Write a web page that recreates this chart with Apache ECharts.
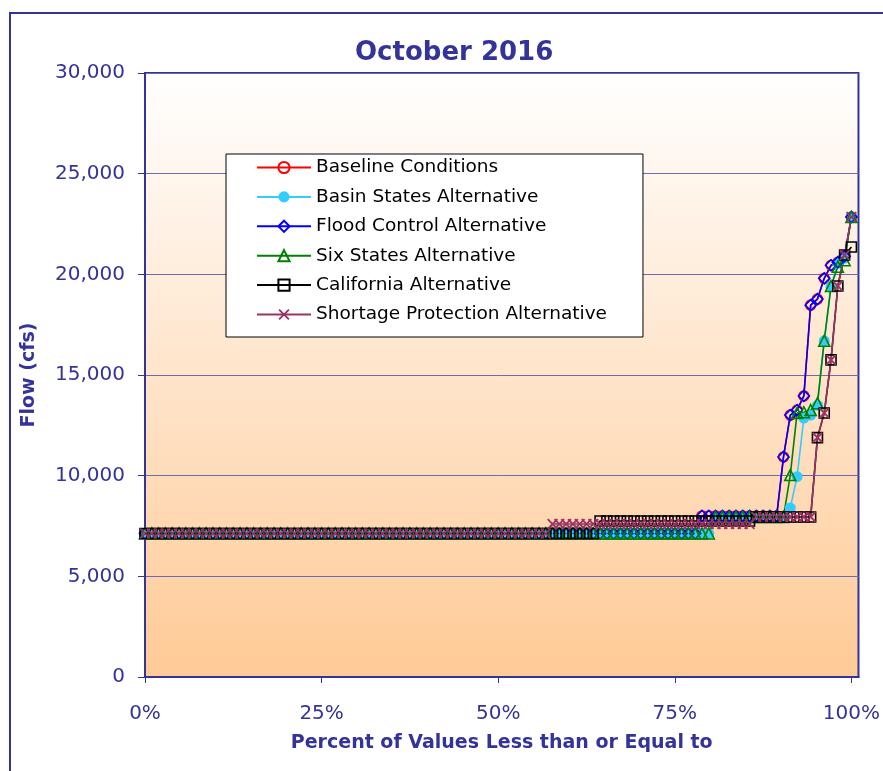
<!DOCTYPE html>
<html>
<head>
<meta charset="utf-8">
<script src="https://cdn.jsdelivr.net/npm/echarts@6/dist/echarts.min.js"></script>
<style>
  html, body { margin: 0; padding: 0; background: #ffffff; }
  #chart { width: 883px; height: 771px; }
</style>
</head>
<body>
<div id="chart"></div>
<script>
// Sorted October 2016 flows (cfs), ranked lowest to highest for each alternative.
const seriesNames = [
  'Baseline Conditions',
  'Basin States Alternative',
  'Flood Control Alternative',
  'Six States Alternative',
  'California Alternative',
  'Shortage Protection Alternative'
];

const baselineFlow = [
  7130, 7130, 7130, 7130, 7130, 7130, 7130, 7130, 7130, 7130,
  7130, 7130, 7130, 7130, 7130, 7130, 7130, 7130, 7130, 7130,
  7130, 7130, 7130, 7130, 7130, 7130, 7130, 7130, 7130, 7130,
  7130, 7130, 7130, 7130, 7130, 7130, 7130, 7130, 7130, 7130,
  7130, 7130, 7130, 7130, 7130, 7130, 7130, 7130, 7130, 7130,
  7130, 7130, 7130, 7130, 7130, 7130, 7130, 7130, 7130, 7130,
  7130, 7130, 7130, 7130, 7130, 7130, 7130, 7130, 7130, 7130,
  7130, 7130, 7130, 7130, 7130, 7130, 7130, 7130, 7130, 7130,
  7130, 7130,
  8000, 8000, 8000, 8000, 8000, 8000, 8000, 8000, 8000, 8000, 8000, 8000,
  10930, 13010, 13260, 13960, 18470, 18770, 19800, 20450, 20600, 20900, 22850
];

const basinStatesFlow = [
  7130, 7130, 7130, 7130, 7130, 7130, 7130, 7130, 7130, 7130,
  7130, 7130, 7130, 7130, 7130, 7130, 7130, 7130, 7130, 7130,
  7130, 7130, 7130, 7130, 7130, 7130, 7130, 7130, 7130, 7130,
  7130, 7130, 7130, 7130, 7130, 7130, 7130, 7130, 7130, 7130,
  7130, 7130, 7130, 7130, 7130, 7130, 7130, 7130, 7130, 7130,
  7130, 7130, 7130, 7130, 7130, 7130, 7130, 7130, 7130, 7130,
  7130, 7130, 7130, 7130, 7130, 7130, 7130, 7130, 7130, 7130,
  7130, 7130, 7130, 7130, 7130, 7130, 7130, 7130, 7130, 7130,
  7130, 7130, 7130, 7130,
  7950, 7950, 7950, 7950, 7950, 7950, 7950, 7950, 7950, 7950, 7950,
  8400, 9950, 12860, 13010, 13500, 16700, 19400, 20550, 20800, 22850
];

const floodControlFlow = [
  7130, 7130, 7130, 7130, 7130, 7130, 7130, 7130, 7130, 7130,
  7130, 7130, 7130, 7130, 7130, 7130, 7130, 7130, 7130, 7130,
  7130, 7130, 7130, 7130, 7130, 7130, 7130, 7130, 7130, 7130,
  7130, 7130, 7130, 7130, 7130, 7130, 7130, 7130, 7130, 7130,
  7130, 7130, 7130, 7130, 7130, 7130, 7130, 7130, 7130, 7130,
  7130, 7130, 7130, 7130, 7130, 7130, 7130, 7130, 7130, 7130,
  7130, 7130, 7130, 7130, 7130, 7130, 7130, 7130, 7130, 7130,
  7130, 7130, 7130, 7130, 7130, 7130, 7130, 7130, 7130, 7130,
  7130, 7130,
  8000, 8000, 8000, 8000, 8000, 8000, 8000, 8000, 8000, 8000, 8000, 8000,
  10930, 13010, 13260, 13960, 18470, 18770, 19800, 20450, 20600, 20900, 22850
];

const sixStatesFlow = [
  7130, 7130, 7130, 7130, 7130, 7130, 7130, 7130, 7130, 7130,
  7130, 7130, 7130, 7130, 7130, 7130, 7130, 7130, 7130, 7130,
  7130, 7130, 7130, 7130, 7130, 7130, 7130, 7130, 7130, 7130,
  7130, 7130, 7130, 7130, 7130, 7130, 7130, 7130, 7130, 7130,
  7130, 7130, 7130, 7130, 7130, 7130, 7130, 7130, 7130, 7130,
  7130, 7130, 7130, 7130, 7130, 7130, 7130, 7130, 7130, 7130,
  7130, 7130, 7130, 7130, 7130, 7130, 7130, 7130, 7130, 7130,
  7130, 7130, 7130, 7130, 7130, 7130, 7130, 7130, 7130, 7130,
  7130, 7130, 7130, 7130,
  7950, 7950, 7950, 7950, 7950, 7950, 7950, 7950, 7950, 7950, 7950,
  10030, 13110, 13150, 13260, 13600, 16700, 19420, 20380, 20700, 22850
];

const californiaFlow = [
  7130, 7130, 7130, 7130, 7130, 7130, 7130, 7130, 7130, 7130,
  7130, 7130, 7130, 7130, 7130, 7130, 7130, 7130, 7130, 7130,
  7130, 7130, 7130, 7130, 7130, 7130, 7130, 7130, 7130, 7130,
  7130, 7130, 7130, 7130, 7130, 7130, 7130, 7130, 7130, 7130,
  7130, 7130, 7130, 7130, 7130, 7130, 7130, 7130, 7130, 7130,
  7130, 7130, 7130, 7130, 7130, 7130, 7130, 7130, 7130, 7130,
  7130, 7130, 7130, 7130, 7130, 7130, 7130,
  7750, 7750, 7750, 7750, 7750, 7750, 7750, 7750, 7750, 7750,
  7750, 7750, 7750, 7750, 7750, 7750, 7750, 7750, 7750, 7750,
  7750, 7750, 7750,
  7950, 7950, 7950, 7950, 7950, 7950, 7950, 7950, 7950,
  11890, 13110, 15750, 19420, 20960, 21360
];

const shortageProtectionFlow = [
  7130, 7130, 7130, 7130, 7130, 7130, 7130, 7130, 7130, 7130,
  7130, 7130, 7130, 7130, 7130, 7130, 7130, 7130, 7130, 7130,
  7130, 7130, 7130, 7130, 7130, 7130, 7130, 7130, 7130, 7130,
  7130, 7130, 7130, 7130, 7130, 7130, 7130, 7130, 7130, 7130,
  7130, 7130, 7130, 7130, 7130, 7130, 7130, 7130, 7130, 7130,
  7130, 7130, 7130, 7130, 7130, 7130, 7130, 7130, 7130, 7130,
  7600, 7600, 7600, 7600, 7600, 7600, 7600, 7600, 7600, 7600,
  7600, 7600, 7600, 7600, 7600, 7600, 7600, 7600, 7600, 7600,
  7600, 7600, 7600, 7600, 7600, 7600, 7600, 7600, 7600, 7600,
  7950, 7950, 7950, 7950, 7950, 7950, 7950, 7950, 7950,
  11890, 13110, 15750, 19420, 20960, 22850
];

const percentTicks = [0, 25, 50, 75, 100];

// Plotting position: percent of values less than or equal to each ranked flow.
function toPoints(flows) {
  const last = flows.length - 1;
  return flows.map((v, k) => [k / last * 100, v]);
}

const navy = '#333399';
const font = 'DejaVu Sans';
const crossPath = 'path://M0,1.2L1.2,0L5,3.8L8.8,0L10,1.2L6.2,5L10,8.8L8.8,10L5,6.2L1.2,10L0,8.8L3.8,5Z';

function lineSeries(name, flows, color, symbol, size, filled) {
  return {
    name: name,
    type: 'line',
    data: toPoints(flows),
    symbol: symbol,
    symbolSize: size,
    showAllSymbol: true,
    lineStyle: { color: color, width: 1.6 },
    itemStyle: filled
      ? { color: color, borderWidth: 0 }
      : { color: 'rgba(0,0,0,0)', borderColor: color, borderWidth: 1.6 },
    emphasis: { disabled: true }
  };
}

const chart = echarts.init(document.getElementById('chart'), null, { renderer: 'canvas' });

chart.setOption({
  animation: false,
  backgroundColor: '#ffffff',
  title: {
    text: 'October 2016',
    left: 350,
    top: 35,
    textStyle: { color: navy, fontFamily: font, fontWeight: 'bold', fontSize: 26 }
  },
  graphic: [{
    type: 'rect',
    shape: { x: 10, y: 13, width: 900, height: 800 },
    style: { fill: 'none', stroke: navy, lineWidth: 2 },
    silent: true
  }],
  legend: {
    orient: 'vertical',
    left: 226,
    top: 154,
    padding: [4, 36, 13, 30],
    itemWidth: 54,
    itemHeight: 14,
    itemGap: 10.4,
    backgroundColor: '#ffffff',
    borderColor: '#000000',
    borderWidth: 1,
    borderRadius: 0,
    textStyle: { color: '#000000', fontFamily: font, fontSize: 18.5, lineHeight: 18 },
    data: seriesNames
  },
  grid: {
    left: 145,
    top: 73,
    width: 715,
    height: 604,
    show: true,
    backgroundColor: new echarts.graphic.LinearGradient(0, 0, 0, 1, [
      { offset: 0, color: '#ffffff' },
      { offset: 1, color: '#ffca96' }
    ]),
    borderColor: navy,
    borderWidth: 2
  },
  xAxis: {
    type: 'value',
    min: 0,
    max: 101,
    interval: 25,
    name: 'Percent of Values Less than or Equal to',
    nameLocation: 'middle',
    nameGap: 57,
    nameTextStyle: { color: navy, fontFamily: font, fontWeight: 'bold', fontSize: 19 },
    axisLine: { show: true, lineStyle: { color: navy, width: 2 } },
    axisTick: { show: true, length: 6, customValues: percentTicks, lineStyle: { color: navy } },
    axisLabel: {
      customValues: percentTicks,
      margin: 27,
      color: navy,
      fontFamily: font,
      fontSize: 20,
      formatter: function (v) { return v + '%'; }
    },
    splitLine: { show: false }
  },
  yAxis: {
    type: 'value',
    min: 0,
    max: 30000,
    interval: 5000,
    name: 'Flow (cfs)',
    nameLocation: 'middle',
    nameGap: 106,
    nameTextStyle: { color: navy, fontFamily: font, fontWeight: 'bold', fontSize: 19 },
    axisLine: { show: true, lineStyle: { color: navy, width: 2 } },
    axisTick: { show: true, length: 7, lineStyle: { color: navy } },
    axisLabel: { margin: 20, color: navy, fontFamily: font, fontSize: 20 },
    splitLine: { show: true, lineStyle: { color: '#6b6bb0', width: 1 } }
  },
  series: [
    lineSeries(seriesNames[0], baselineFlow, '#ff0000', 'circle', 10, false),
    lineSeries(seriesNames[1], basinStatesFlow, '#33ccff', 'circle', 11, true),
    lineSeries(seriesNames[2], floodControlFlow, '#0000ff', 'diamond', 11, false),
    lineSeries(seriesNames[3], sixStatesFlow, '#008000', 'triangle', 11, false),
    lineSeries(seriesNames[4], californiaFlow, '#000000', 'rect', 10, false),
    lineSeries(seriesNames[5], shortageProtectionFlow, '#993366', crossPath, 11, true)
  ]
});
</script>
</body>
</html>
